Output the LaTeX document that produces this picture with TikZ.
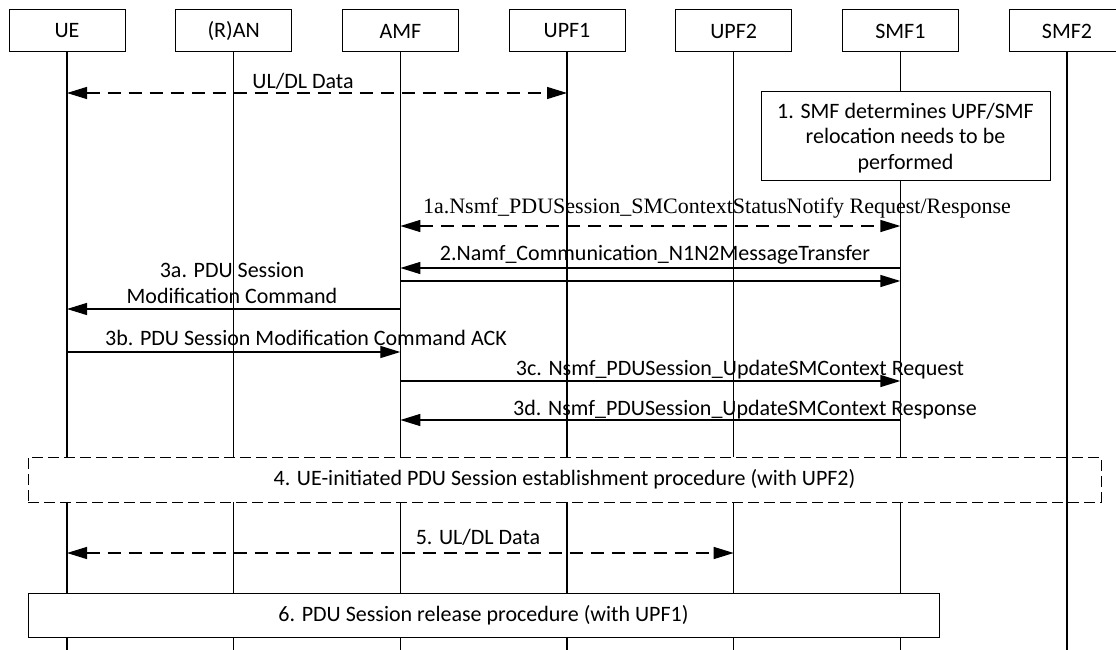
\documentclass[tikz,border=0pt]{standalone}
\usepackage{fontspec}
\setmainfont{Carlito}
\newfontfamily\timesfont{Liberation Serif}
\usetikzlibrary{arrows.meta}

\begin{document}
\begin{tikzpicture}[x=1pt,y=-1pt,>={Triangle[length=20pt,width=12pt]},
   font=\fontsize{22}{25.5}\selectfont,
   hdr/.style={draw,line width=1pt,minimum width=116pt,minimum height=42pt,inner sep=0pt},
   life/.style={line width=1.3pt},
   msg/.style={line width=1.3pt},
   data/.style={line width=1.3pt,dash pattern=on 13pt off 8pt},
   stepbox/.style={draw,fill=white,line width=1pt,inner sep=0pt,align=center},
   lbl/.style={inner sep=0pt,anchor=base}]
   \useasboundingbox (0,0) rectangle (1116,650);

   % 参加者
   \foreach \nm/\txt [count=\i from 0] in {ue/UE,ran/{(R)AN},amf/AMF,upf1/UPF1,upf2/UPF2,smf1/SMF1,smf2/SMF2}
     \node[hdr] (\nm) at (67+166.67*\i,31) {\txt};
   \coordinate (bot) at (0,650);

   % 生命線
   \foreach \nm in {ue,ran,amf,upf1,upf2,smf1}
     \draw[life] (\nm.south) -- (\nm |- bot);

   % 矢印の高さ
   \foreach \nm/\yy in {y0/93,y1a/226,y2/268,y2b/281,y3a/309,y3b/352,y3c/381,y3d/420,y5/553}
     \coordinate (\nm) at (0,\yy);

   % UL/DL Data
   \draw[data,<->] (ue |- y0) -- (upf1 |- y0);
   \node[lbl] (t0) at (303,89) {UL/DL Data};

   % 1
   \node[stepbox,minimum width=289pt,minimum height=88pt,text depth=0pt] (s1) at (905.5,136)
     {1. SMF determines UPF/SMF\\relocation needs to be\\performed};

   % 1a, 2
   \draw[data,<->] (amf |- y1a) -- (smf1 |- y1a);
   \node[lbl,font=\timesfont\fontsize{22}{25}\selectfont] (t1a) at (717,213)
     {1a.Nsmf\_PDUSession\_SMContextStatusNotify Request/Response};
   \draw[msg,<-] (amf |- y2) -- (smf1 |- y2);
   \node[lbl] (t2) at (655,260) {2.Namf\_Communication\_N1N2MessageTransfer};
   \draw[msg,->] (amf |- y2b) -- (smf1 |- y2b);

   % 3a--3d
   \draw[msg,<-] (ue |- y3a) -- (amf |- y3a);
   \node[inner sep=0pt,align=center] (t3a) at (232,283) {3a. PDU Session\\Modification Command};
   \draw[msg,->] (ue |- y3b) -- (amf |- y3b);
   \node[lbl] (t3b) at (306,345) {3b. PDU Session Modification Command ACK};
   \draw[msg,->] (amf |- y3c) -- (smf1 |- y3c);
   \node[lbl] (t3c) at (740,375) {3c. Nsmf\_PDUSession\_UpdateSMContext Request};
   \draw[msg,<-] (amf |- y3d) -- (smf1 |- y3d);
   \node[lbl] (t3d) at (745,415) {3d. Nsmf\_PDUSession\_UpdateSMContext Response};

   % 4
   \node[stepbox,dash pattern=on 11pt off 5pt,minimum width=1073pt,minimum height=45pt] (s4)
     at (564.5,479.5) {4. UE-initiated PDU Session establishment procedure (with UPF2)};

   % 5
   \draw[data,<->] (ue |- y5) -- (upf2 |- y5);
   \node[lbl] (t5) at (478,544) {5. UL/DL Data};

   % 6
   \node[stepbox,minimum width=911pt,minimum height=44pt] (s6) at (483.5,615)
     {6. PDU Session release procedure (with UPF1)};

   % SMF2 の生命線
   \draw[life] (smf2.south) -- (smf2 |- bot);

\end{tikzpicture}
\end{document}
